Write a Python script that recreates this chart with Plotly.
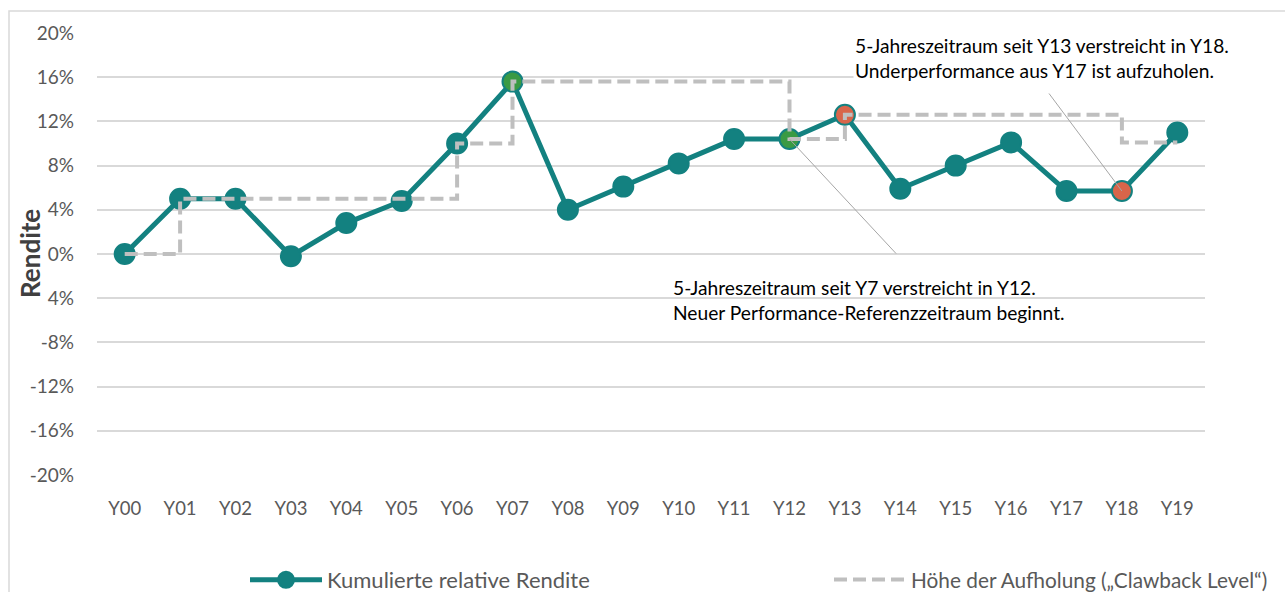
import plotly.graph_objects as go

years = ["Y00","Y01","Y02","Y03","Y04","Y05","Y06","Y07","Y08","Y09",
         "Y10","Y11","Y12","Y13","Y14","Y15","Y16","Y17","Y18","Y19"]
rendite = [0.0, 5.0, 5.0, -0.2, 2.8, 4.8, 10.0, 15.6, 4.0, 6.1,
           8.2, 10.4, 10.4, 12.6, 5.9, 8.0, 10.1, 5.7, 5.7, 11.0]
clawback = [0.0, 5.0, 5.0, 5.0, 5.0, 5.0, 10.0, 15.6, 15.6, 15.6,
            15.6, 15.6, 10.4, 12.6, 12.6, 12.6, 12.6, 12.6, 10.1, 10.1]
marker_colors = ["#138180"] * 20
marker_colors[7] = "#3a9a44"
marker_colors[12] = "#3a9a44"
marker_colors[13] = "#d8654a"
marker_colors[18] = "#d8654a"

tick_vals = [-20, -16, -12, -8, -4, 0, 4, 8, 12, 16, 20]
tick_text = ["-20%", "-16%", "-12%", "-8%", "4%", "0%", "4%", "8%", "12%", "16%", "20%"]

teal = "#138180"
grey = "#bfbfbf"
font_main = "Lato"

fig = go.Figure()
fig.add_trace(go.Scatter(
    x=years, y=rendite, mode="lines+markers",
    name="Kumulierte relative Rendite",
    line=dict(color=teal, width=5),
    marker=dict(size=20, color=marker_colors, line=dict(color=teal, width=2)),
    legend="legend",
))
fig.add_trace(go.Scatter(
    x=years, y=clawback, mode="lines",
    name="Höhe der Aufholung („Clawback Level“)",
    line=dict(color=grey, width=4, dash="13px,6px", shape="hv"),
    legend="legend2",
))

# Border of the chart area
fig.add_shape(type="rect", xref="paper", yref="paper",
              x0=(9-97)/1108, x1=1.2, y0=-0.4, y1=(475-11)/442,
              line=dict(color="#d9d9d9", width=1.5), fillcolor="rgba(0,0,0,0)", layer="below")

# Connector lines
fig.add_annotation(x="Y18", y=5.7, ax=-74, ay=-99, text="", showarrow=True,
                   arrowhead=0, arrowwidth=1, arrowcolor="#a6a6a6", standoff=0)
fig.add_annotation(x="Y12", y=10.4, ax=108, ay=116, text="", showarrow=True,
                   arrowhead=0, arrowwidth=1, arrowcolor="#a6a6a6", standoff=0)

# Text boxes
fig.add_annotation(xref="paper", yref="paper", x=(853-97)/1108, y=(475-32)/442,
                   xanchor="left", yanchor="top", align="left", showarrow=False,
                   text="5-Jahreszeitraum seit Y13 verstreicht in Y18.<br>Underperformance aus Y17 ist aufzuholen.",
                   font=dict(family=font_main, size=19.2, color="#000000"),
                   bgcolor="#ffffff", borderpad=1)
fig.add_annotation(xref="paper", yref="paper", x=(671-97)/1108, y=(475-274)/442,
                   xanchor="left", yanchor="top", align="left", showarrow=False,
                   text="5-Jahreszeitraum seit Y7 verstreicht in Y12.<br>Neuer Performance-Referenzzeitraum beginnt.",
                   font=dict(family=font_main, size=19.2, color="#000000"),
                   borderpad=1)

# Y axis title
fig.add_annotation(xref="paper", yref="paper", x=(30-97)/1108, y=0.5,
                   xanchor="center", yanchor="middle", textangle=-90, showarrow=False,
                   text="<b>Rendite</b>", font=dict(family=font_main, size=26, color="#404040"))

fig.update_layout(
    width=1285, height=592,
    margin=dict(l=97, r=80, t=33, b=117, autoexpand=False),
    paper_bgcolor="#ffffff", plot_bgcolor="#ffffff",
    font=dict(family=font_main, color="#595959", size=18),
    showlegend=True,
    legend=dict(orientation="h", x=(245-97)/1108, y=-(580-475)/442, xanchor="left", yanchor="middle",
                itemwidth=72, font=dict(size=22, color="#595959"), bgcolor="rgba(0,0,0,0)"),
    legend2=dict(orientation="h", x=(829-97)/1108, y=-(580-475)/442, xanchor="left", yanchor="middle",
                 itemwidth=72, font=dict(size=20.8, color="#595959"), bgcolor="rgba(0,0,0,0)"),
    xaxis=dict(type="category", range=[-0.5, 19.5], showgrid=False, zeroline=False,
               showline=False, ticks="", ticklabelstandoff=20,
               tickfont=dict(size=18.5, color="#595959")),
    yaxis=dict(range=[-20, 20], tickvals=tick_vals, ticktext=tick_text,
               showgrid=True, gridcolor="#d9d9d9", gridwidth=1.5, zeroline=False,
               showline=False, ticks="", ticklabelstandoff=22,
               tickfont=dict(size=19, color="#595959")),
)

fig.write_html("out.html", config={"displayModeBar": False},
               post_script="document.body.style.margin='0';")
